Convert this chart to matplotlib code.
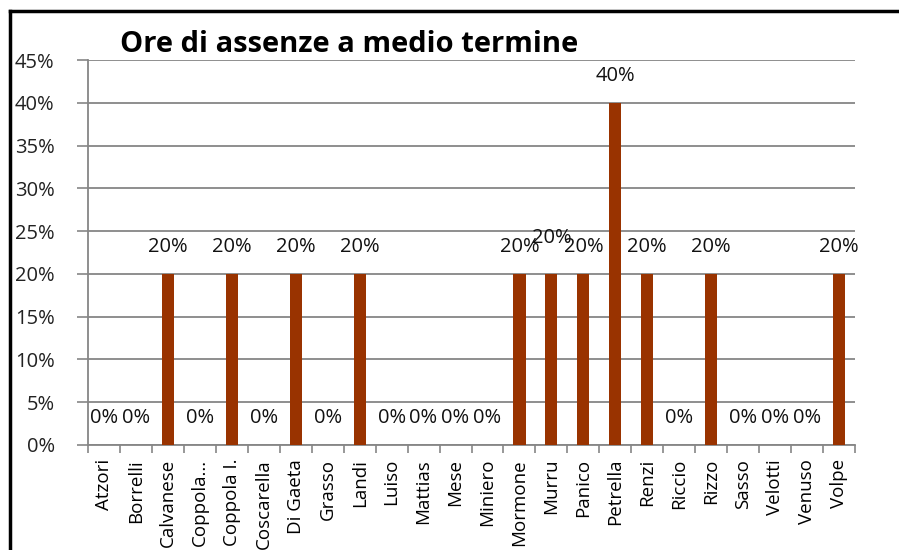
import numpy as np
import matplotlib.pyplot as plt
from matplotlib.lines import Line2D

# dati
nomi = ['Atzori', 'Borrelli', 'Calvanese', 'Coppola...', 'Coppola I.', 'Coscarella',
        'Di Gaeta', 'Grasso', 'Landi', 'Luiso', 'Mattias', 'Mese', 'Miniero',
        'Mormone', 'Murru', 'Panico', 'Petrella', 'Renzi', 'Riccio', 'Rizzo',
        'Sasso', 'Velotti', 'Venuso', 'Volpe']
valori = [0, 0, 0.20, 0, 0.20, 0, 0.20, 0, 0.20, 0, 0, 0, 0,
          0.20, 0.20, 0.20, 0.40, 0.20, 0, 0.20, 0, 0, 0, 0.20]
tick_y = [0, 0.05, 0.10, 0.15, 0.20, 0.25, 0.30, 0.35, 0.40, 0.45]

plt.rcParams['font.family'] = ['Open Sans', 'DejaVu Sans']

fig = plt.figure(figsize=(8.99, 5.5), dpi=100)
ax = fig.add_axes([88 / 899, 1 - 445 / 550, (855 - 88) / 899, (445 - 60) / 550])

x = np.arange(len(nomi))
ax.bar(x, valori, width=0.38, color='#993300', zorder=3)

# etichette dei valori
for i, v in enumerate(valori):
    dy = 0.030 if nomi[i] == 'Murru' else 0.020
    ax.text(i, v + dy, f'{v:.0%}', ha='center', va='bottom', fontsize=14.5,
            color='#111111')

ax.set_xlim(-0.5, len(nomi) - 0.5)
ax.set_ylim(0, 0.45)
ax.set_yticks(tick_y)
ax.set_yticklabels([f'{t:.0%}' for t in tick_y], fontsize=14.5, color='#222222')
ax.set_xticks(np.arange(len(nomi) + 1) - 0.5, minor=False)
ax.set_xticklabels([])
ax.set_xticks(x, minor=True)
ax.set_xticklabels(nomi, minor=True, rotation=90, fontsize=13.5)
ax.tick_params(axis='x', which='major', length=6, color='#868686', width=1.2)
ax.tick_params(axis='x', which='minor', length=0, pad=10)
ax.tick_params(axis='y', length=8, color='#868686', width=1.2, pad=16)

ax.yaxis.grid(True, color='#868686', linewidth=1.3, zorder=0)
ax.set_axisbelow(True)
for s in ['top', 'right']:
    ax.spines[s].set_visible(False)
for s in ['left', 'bottom']:
    ax.spines[s].set_color('#868686')
    ax.spines[s].set_linewidth(1.3)

fig.text(120 / 899, 1 - 44 / 550, 'Ore di assenze a medio termine', ha='left',
         va='center', fontsize=21, fontweight='bold')

# cornice esterna
fig.add_artist(Line2D([10 / 899, 10 / 899], [0, 1 - 11 / 550], color='black',
                      linewidth=2.5, transform=fig.transFigure))
fig.add_artist(Line2D([10 / 899, 1], [1 - 11 / 550, 1 - 11 / 550], color='black',
                      linewidth=2.5, transform=fig.transFigure))

fig.savefig('out.png', dpi=100)
